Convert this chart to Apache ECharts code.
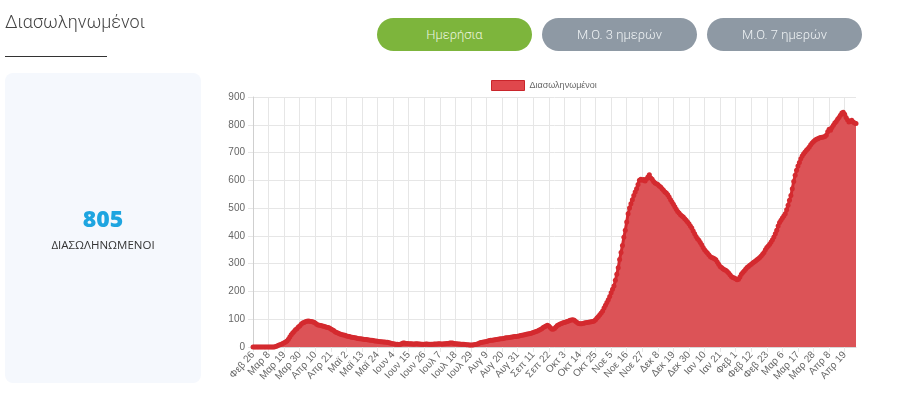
<!DOCTYPE html>
<html lang="el">
<head>
    <meta charset="utf-8">
    <meta name="viewport" content="width=device-width, initial-scale=1">
    <script src="https://cdn.jsdelivr.net/npm/echarts@6/dist/echarts.min.js"></script>
    <style>
        html, body { margin: 0; padding: 0; background: #fff; }
        .page { position: relative; width: 900px; height: 419px; overflow: hidden; font-family: Roboto, "Noto Sans", sans-serif; }
        #chart { position: absolute; left: 0; top: 0; width: 900px; height: 419px; }
        .title { position: absolute; left: 5px; top: 11px; font-size: 18px; font-weight: 300; color: #444; }
        .title-line { position: absolute; left: 5px; top: 56px; width: 102px; height: 1px; background: #333; }
        .btn { position: absolute; top: 18px; width: 155px; height: 33px; line-height: 33px; border-radius: 17px;
               text-align: center; font-size: 13px; font-weight: 300; color: #eef2f4; font-family: Roboto, sans-serif; }
        .btn.on { background: #7db53c; color: #eaf4de; }
        .btn.off { background: #8e99a4; }
        .panel { position: absolute; left: 5px; top: 73px; width: 196px; height: 310px; background: #f5f8fd; border-radius: 8px; }
        .big { position: absolute; left: 0; width: 196px; top: 129px; text-align: center; font-family: "Open Sans", sans-serif;
               font-weight: 800; font-size: 23px; color: #1ea5e0; }
        .small { position: absolute; left: 0; width: 196px; top: 164px; text-align: center; font-family: "Open Sans", sans-serif;
                 font-size: 11.5px; color: #333; }
    </style>
</head>
<body>
<div class="page">
    <div id="chart"></div>
    <div class="title">Διασωληνωμένοι</div>
    <div class="title-line"></div>
    <div class="btn on" style="left: 377px;">Ημερήσια</div>
    <div class="btn off" style="left: 542px;">Μ.Ο. 3 ημερών</div>
    <div class="btn off" style="left: 707px;">Μ.Ο. 7 ημερών</div>
    <div class="panel">
        <div class="big">805</div>
        <div class="small">ΔΙΑΣΩΛΗΝΩΜΕΝΟΙ</div>
    </div>
</div>

<script type="text/javascript">
    // ημερήσιες τιμές, ανά μήνα (26/2/2020 - 27/4/2021)
    var feb2020 = [0, 0, 0, 0];
    var mar2020 = [0, 0, 0, 0, 0, 0, 0, 0, 0, 0, 0, 0, 2, 4, 6, 8, 10, 13, 15, 18,
        22, 28, 36, 44, 50, 56, 62, 66, 72, 76, 82];
    var apr2020 = [86, 88, 91, 93, 94, 93, 92, 91, 89, 86, 82, 79, 78, 77, 76, 75, 73, 71, 70, 68,
        65, 62, 59, 55, 52, 50, 48, 46, 44, 43];
    var may2020 = [42, 40, 39, 38, 36, 35, 34, 33, 32, 31, 30, 30, 29, 28, 27, 27, 26, 25, 24, 24,
        23, 22, 22, 21, 20, 19, 19, 18, 18, 17, 17];
    var jun2020 = [15, 14, 13, 12, 11, 10, 10, 9, 10, 12, 14, 14, 13, 13, 12, 12, 12, 11, 11, 12,
        12, 11, 11, 10, 10, 10, 11, 11, 10, 10];
    var jul2020 = [10, 10, 11, 11, 11, 12, 12, 11, 11, 12, 12, 13, 13, 14, 14, 14, 13, 12, 12, 11,
        11, 10, 10, 10, 9, 8, 8, 7, 7, 7, 8];
    var aug2020 = [9, 10, 12, 14, 16, 17, 18, 19, 20, 22, 23, 24, 24, 25, 26, 27, 28, 29, 30, 30,
        31, 32, 33, 33, 34, 35, 36, 37, 38, 38, 39];
    var sep2020 = [40, 41, 42, 43, 44, 46, 47, 48, 49, 50, 52, 54, 56, 58, 60, 63, 66, 70, 73, 76,
        78, 76, 70, 65, 64, 67, 72, 77, 80, 83];
    var oct2020 = [85, 87, 88, 90, 92, 94, 96, 97, 98, 96, 92, 88, 85, 84, 84, 85, 86, 87, 88, 89,
        90, 91, 92, 94, 98, 104, 110, 116, 122, 130, 140];
    var nov2020 = [150, 160, 170, 182, 195, 208, 220, 240, 262, 285, 315, 340, 365, 395, 420, 450, 480, 500, 516, 530,
        545, 558, 570, 585, 600, 604, 600, 603, 598, 605];
    var dec2020 = [612, 620, 608, 604, 596, 590, 588, 585, 580, 576, 570, 564, 558, 554, 548, 540, 530, 522, 514, 505,
        496, 488, 482, 476, 472, 468, 462, 456, 450, 444, 436];
    var jan2021 = [428, 418, 408, 398, 390, 384, 376, 368, 358, 350, 344, 338, 332, 326, 322, 320, 318, 314, 306, 298,
        290, 286, 282, 278, 276, 272, 266, 260, 254, 250, 248];
    var feb2021 = [246, 242, 244, 252, 262, 268, 274, 280, 286, 290, 294, 298, 302, 306, 310, 314, 318, 322, 328, 334,
        340, 350, 358, 364, 370, 378, 386, 396];
    var mar2021 = [408, 420, 436, 448, 456, 464, 472, 480, 494, 510, 528, 545, 570, 596, 618, 636, 652, 664, 678, 688,
        696, 702, 708, 714, 720, 728, 734, 740, 744, 748, 750];
    var apr2021 = [752, 754, 755, 756, 758, 762, 775, 784, 780, 790, 798, 806, 812, 820, 826, 834, 842, 845, 838, 826,
        818, 810, 812, 816, 810, 806, 805];

    var values = [].concat(feb2020, mar2020, apr2020, may2020, jun2020, jul2020, aug2020, sep2020,
        oct2020, nov2020, dec2020, jan2021, feb2021, mar2021, apr2021);

    var months = ['Ιαν', 'Φεβ', 'Μαρ', 'Απρ', 'Μαϊ', 'Ιουν', 'Ιουλ', 'Αυγ', 'Σεπ', 'Οκτ', 'Νοε', 'Δεκ'];
    var yTicks = [0, 100, 200, 300, 400, 500, 600, 700, 800, 900];

    var dates = [];
    for (var i = 0; i < values.length; i++) {
        var d = new Date(Date.UTC(2020, 1, 26 + i));
        dates.push(months[d.getUTCMonth()] + ' ' + d.getUTCDate());
    }

    var chart = echarts.init(document.getElementById('chart'));
    var option = {
        animation: false,
        textStyle: { fontFamily: '"Liberation Sans", Arial, sans-serif' },
        legend: {
            data: ['Διασωληνωμένοι'],
            left: 491,
            top: 80,
            padding: 0,
            icon: 'rect',
            itemWidth: 33,
            itemHeight: 10,
            itemGap: 5,
            itemStyle: { color: '#e0474c', borderColor: '#c9252b', borderWidth: 1 },
            textStyle: { fontSize: 9, color: '#666' }
        },
        grid: { left: 253, right: 44, top: 97, bottom: 72 },
        xAxis: {
            type: 'category',
            data: dates,
            boundaryGap: false,
            axisLine: { show: true, lineStyle: { color: '#d8d8d8' } },
            axisTick: { show: true, interval: 10, length: 5, lineStyle: { color: '#e6e6e6' } },
            axisLabel: { interval: 10, rotate: 48, fontSize: 10, color: '#666', margin: 6 },
            splitLine: { show: true, interval: 10, lineStyle: { color: '#e6e6e6' } }
        },
        yAxis: {
            type: 'value',
            min: yTicks[0],
            max: yTicks[yTicks.length - 1],
            interval: 100,
            axisLine: { show: true, lineStyle: { color: '#cfcfcf' } },
            axisTick: { show: true, length: 5, lineStyle: { color: '#e6e6e6' } },
            axisLabel: { fontSize: 10, color: '#666', margin: 8 },
            splitLine: { show: true, lineStyle: { color: '#e6e6e6' } }
        },
        series: [{
            name: 'Διασωληνωμένοι',
            type: 'line',
            data: values,
            smooth: 0.3,
            symbol: 'circle',
            symbolSize: 5,
            showSymbol: true,
            showAllSymbol: true,
            lineStyle: { color: '#d42a2f', width: 3 },
            itemStyle: { color: '#d42a2f' },
            areaStyle: { color: '#dc5357', opacity: 1 }
        }]
    };
    chart.setOption(option);
</script>
</body>
</html>
